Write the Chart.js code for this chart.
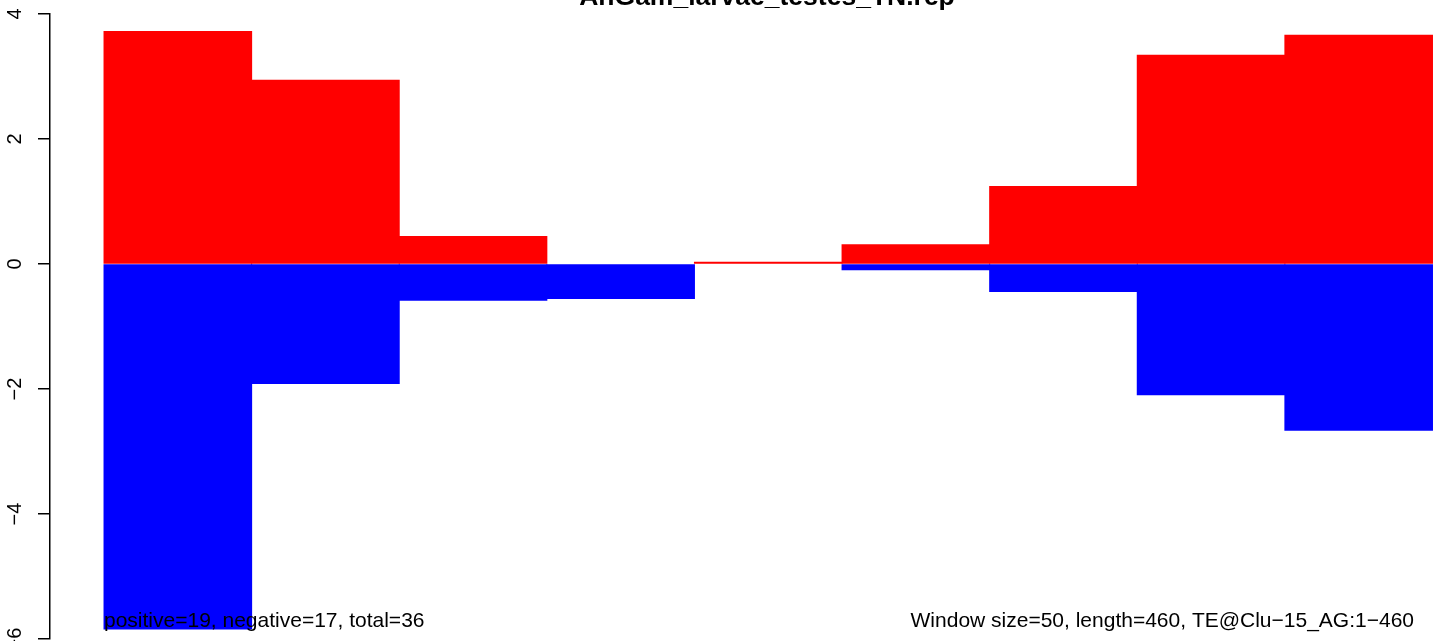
<!DOCTYPE html>
<html>
<head>
<meta charset="utf-8">
<script src="https://cdn.jsdelivr.net/npm/chart.js@4/dist/chart.umd.min.js"></script>
<style>
  html, body { margin: 0; padding: 0; background: #fff; }
  #wrap { width: 1444px; height: 641px; position: relative; }
</style>
</head>
<body>
<div id="wrap"><canvas id="chart"></canvas></div>
<script>
// windows of 50 along the TE (start positions)
const windowStarts = [0, 50, 100, 150, 200, 250, 300, 350, 400];
const windowSize = 50;
const positiveVals = [3.72, 2.94, 0.44, 0, 0.03, 0.31, 1.24, 3.34, 3.66];
const negativeVals = [-5.84, -1.91, -0.58, -0.55, 0, -0.09, -0.44, -2.09, -2.66];
const yTicks = [4, 2, 0, -2, -4, -6];

const titleText = 'AnGam_larvae_testes_TN.rep';
const leftNote = 'positive=19, negative=17, total=36';
const rightNote = 'Window size=50, length=460, TE@Clu\u221215_AG:1\u2212460';

const centers = windowStarts.map(s => s + windowSize / 2);
const toPoints = vals => vals.map((v, i) => ({ x: centers[i], y: v }));

// title + notes, R style
const textPlugin = {
  id: 'rtext',
  afterDraw(chart) {
    const ctx = chart.ctx;
    ctx.save();
    ctx.fillStyle = '#000';
    ctx.textBaseline = 'alphabetic';
    ctx.font = 'bold 26.5px "Liberation Sans", Arial, sans-serif';
    ctx.textAlign = 'center';
    ctx.fillText(titleText, 767, 5);
    ctx.font = '21px "Liberation Sans", Arial, sans-serif';
    ctx.textAlign = 'left';
    ctx.fillText(leftNote, 104, 627);
    ctx.textAlign = 'right';
    ctx.fillText(rightNote, 1414, 627);
    ctx.restore();
  }
};

new Chart(document.getElementById('chart'), {
  type: 'bar',
  data: {
    datasets: [
      { label: 'positive', data: toPoints(positiveVals), backgroundColor: '#ff0000' },
      { label: 'negative', data: toPoints(negativeVals), backgroundColor: '#0000ff' }
    ]
  },
  options: {
    responsive: true,
    maintainAspectRatio: false,
    animation: false,
    layout: { padding: { top: 14, bottom: 2, left: 0, right: 0 } },
    barPercentage: 1,
    categoryPercentage: 1,
    borderWidth: 0,
    // close the hairline seams between windows, but keep empty windows empty
    inflateAmount: c => (c.raw && c.raw.y !== 0) ? 0.5 : 0,
    plugins: { legend: { display: false }, tooltip: { enabled: false } },
    scales: {
      x: {
        type: 'linear',
        stacked: true,
        offset: false,
        min: -18.3,
        max: 453.9,
        display: false,
        // ticks on window centers so bars fill the whole window
        afterBuildTicks(scale) { scale.ticks = centers.map(v => ({ value: v })); }
      },
      y: {
        stacked: true,
        min: -6,
        max: 4,
        afterBuildTicks(scale) { scale.ticks = yTicks.map(v => ({ value: v })); },
        afterFit(scale) {
          scale.width = 50;
          scale.paddingTop = 0;
          scale.paddingBottom = 0;
        },
        border: { display: true, color: '#000', width: 1.5 },
        grid: { drawOnChartArea: false, drawTicks: true, tickLength: 12, color: '#000', lineWidth: 1.5 },
        ticks: {
          minRotation: 90,
          maxRotation: 90,
          crossAlign: 'center',
          padding: 11,
          color: '#000',
          font: { family: '"Liberation Sans", Arial, sans-serif', size: 20 },
          callback: v => v < 0 ? '\u2212' + Math.abs(v) : String(v)
        }
      }
    }
  },
  plugins: [textPlugin]
});
</script>
</body>
</html>
